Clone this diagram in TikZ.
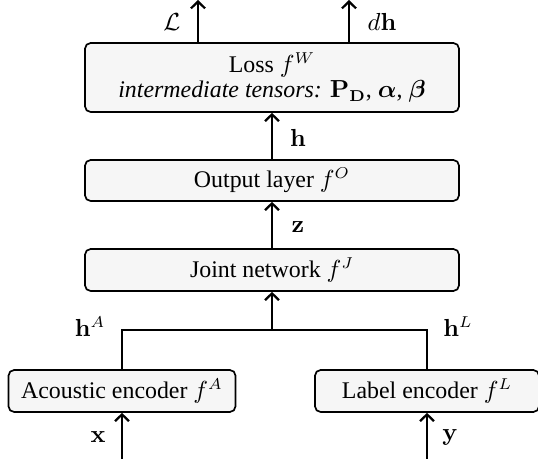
\documentclass[tikz,border=0pt]{standalone}
\usepackage{amsmath,bm}
\usepackage[no-math]{fontspec}
\setmainfont{Liberation Serif}
\usetikzlibrary{arrows.meta}
\begin{document}
\begin{tikzpicture}[x=0.444pt,y=-0.444pt,
  box/.style={draw, line width=0.75pt, rounded corners=2.5pt, fill=gray!7, inner sep=0pt, align=center, font=\fontsize{10.6}{12.5}\selectfont},
  conn/.style={line width=1pt},
  arr/.style={conn, -{Straight Barb[length=3pt,width=6.2pt,line width=1pt]}},
  lab/.style={font=\fontsize{10.6}{12.5}\selectfont}]
\useasboundingbox (0,0) rectangle (538,459);
\node[box, minimum width=374*0.444pt, minimum height=69*0.444pt] (loss) at (272,77.5) {Loss $f^W$\\[-1pt] \textit{intermediate tensors:} $\mathbf{P}_\mathbf{D}$, $\bm{\alpha}$, $\bm{\beta}$};
\node[box, minimum width=374*0.444pt, minimum height=41*0.444pt] (out) at (272,180.5) {Output layer $f^O$};
\node[box, minimum width=374*0.444pt, minimum height=42*0.444pt] (joint) at (272,270) {Joint network $f^J$};
\node[box, minimum width=227*0.444pt, minimum height=42*0.444pt] (ac) at (122,391) {Acoustic encoder $f^A$};
\node[box, minimum width=224*0.444pt, minimum height=42*0.444pt] (le) at (427,391) {Label encoder $f^L$};
\coordinate (lossout) at (198,0);
\coordinate (dhout) at (349,0);
\coordinate (jn) at (272,330);
\coordinate (xin) at (122,459);
\coordinate (yin) at (427,459);
\draw[arr] (loss.north -| lossout) -- (lossout);
\draw[arr] (loss.north -| dhout) -- (dhout);
\draw[arr] (out.north) -- (loss.south);
\draw[arr] (joint.north) -- (out.south);
\draw[conn] (ac.north) |- (jn) -| (le.north);
\draw[arr] (jn) -- (joint.south);
\draw[arr] (xin) -- (ac.south);
\draw[arr] (yin) -- (le.south);
\node[lab] (lL) at (172,22) {$\mathcal{L}$};
\node[lab] (ldh) at (382,22) {$d\mathbf{h}$};
\node[lab] (lh) at (298,138) {$\mathbf{h}$};
\node[lab] (lz) at (298,227) {$\mathbf{z}$};
\node[lab] (lhA) at (90,327) {$\mathbf{h}^A$};
\node[lab] (lhL) at (458,327) {$\mathbf{h}^L$};
\node[lab] (lx) at (98,437) {$\mathbf{x}$};
\node[lab] (ly) at (450,437) {$\mathbf{y}$};
\end{tikzpicture}
\end{document}
